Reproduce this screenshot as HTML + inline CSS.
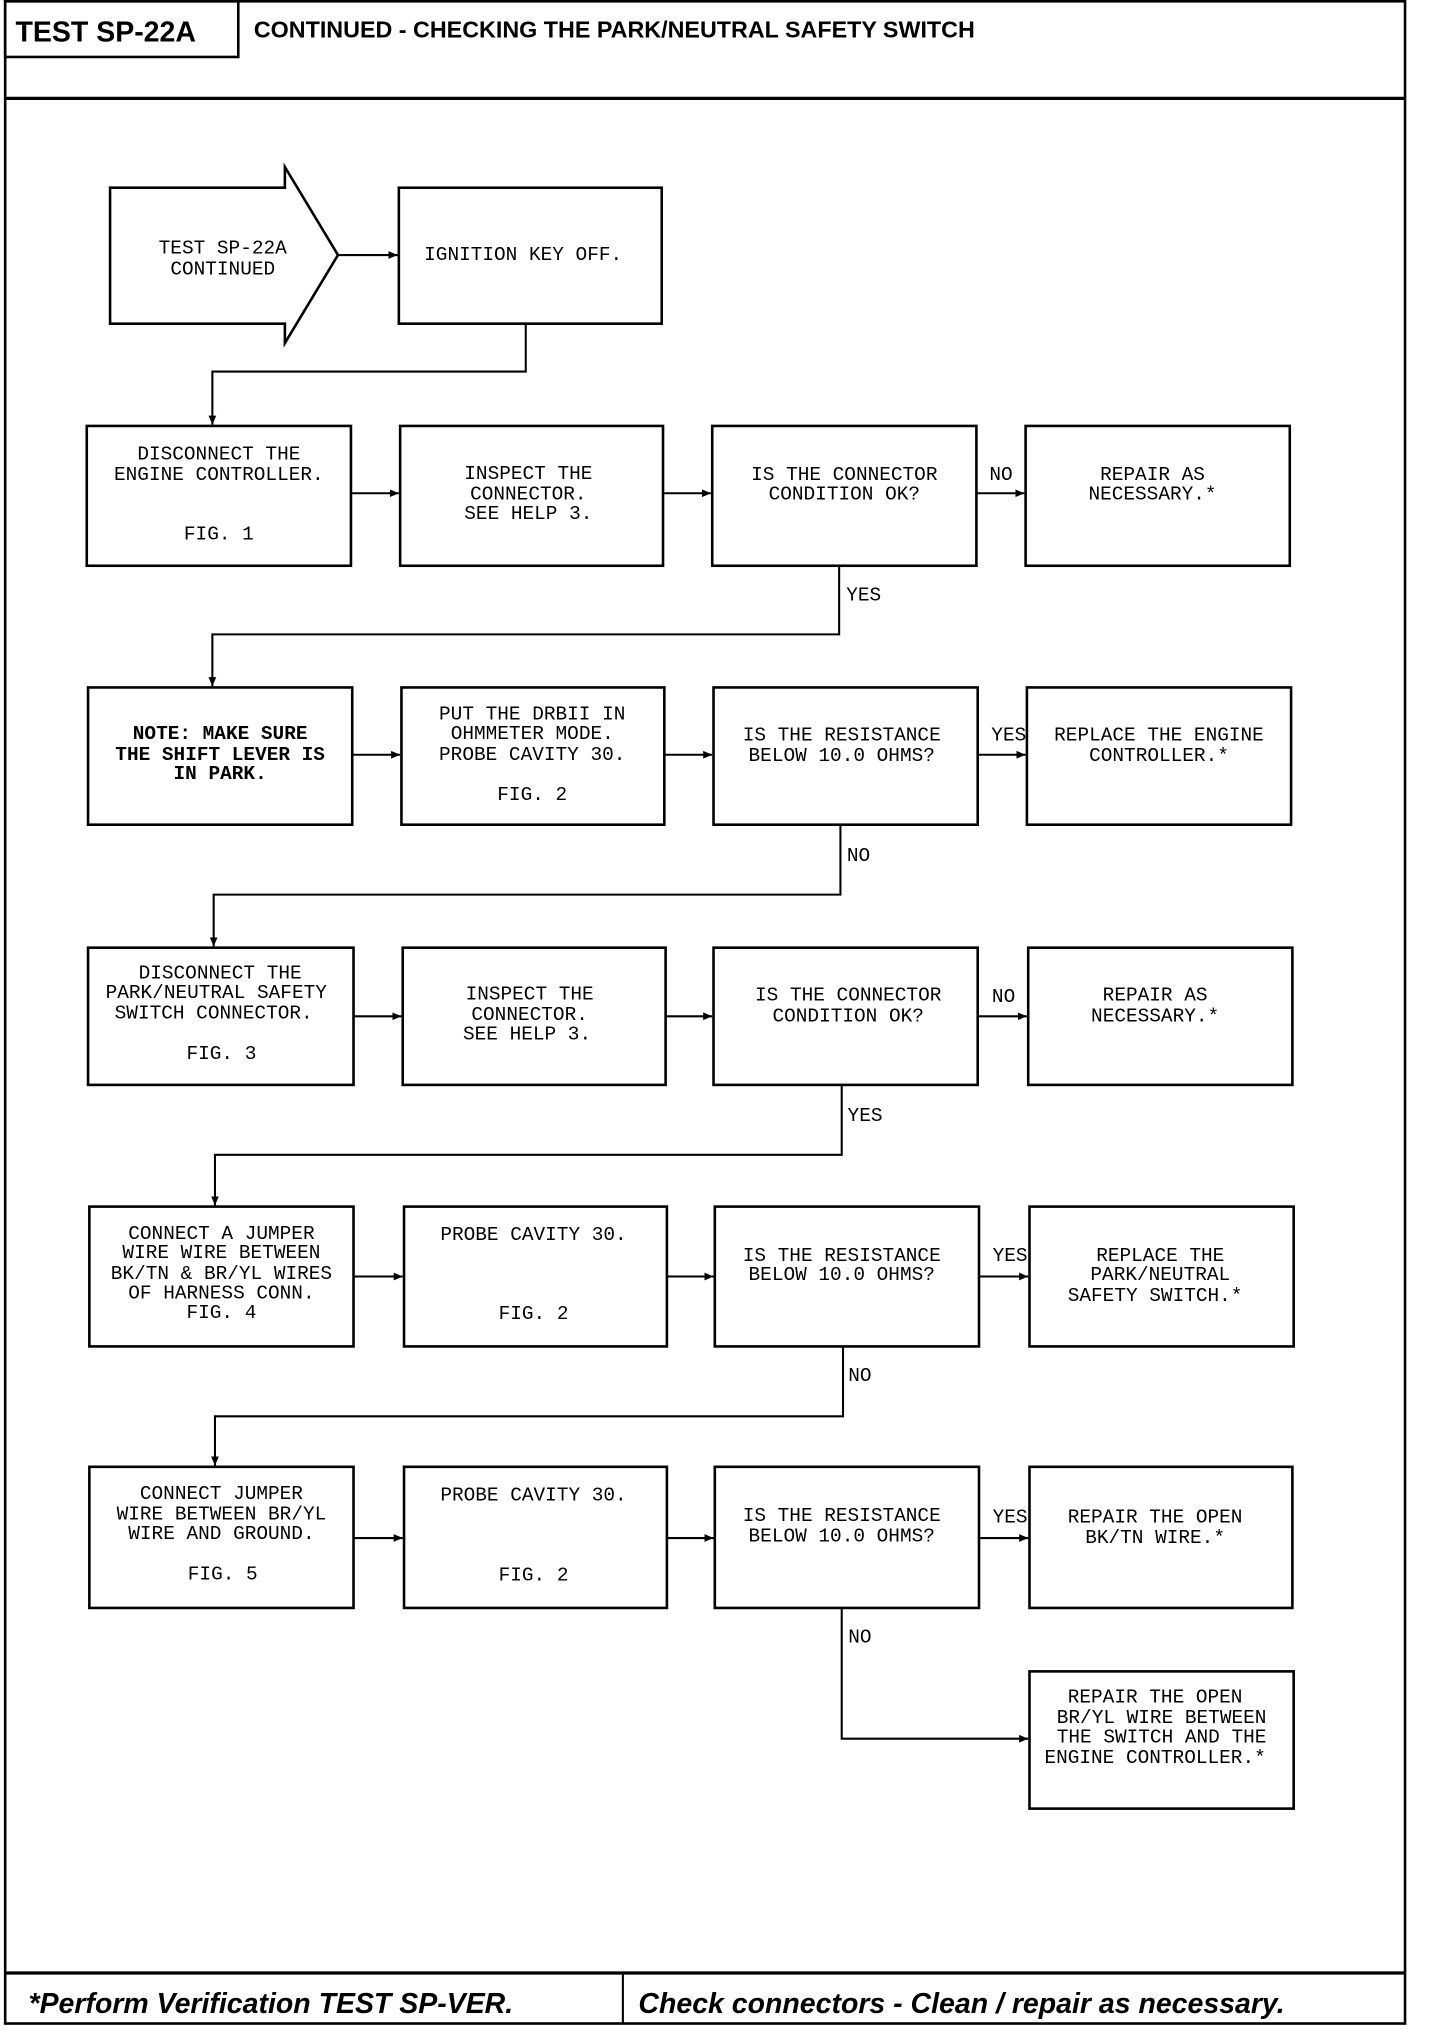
<!DOCTYPE html>
<html><head><meta charset="utf-8"><style>
html,body{margin:0;padding:0;background:#fff}
svg{display:block}
.t{font-family:"Liberation Mono",monospace;font-size:15px;fill:#000;text-anchor:middle;dominant-baseline:central}
.b{fill:none;stroke:#000;stroke-width:2}
.l{fill:none;stroke:#000;stroke-width:1.6}
.h{font-family:"Liberation Sans",sans-serif;font-weight:bold;fill:#000}
.f{font-family:"Liberation Sans",sans-serif;font-weight:bold;font-style:italic;font-size:22px;fill:#000}
</style></head><body>
<svg width="1440" height="2030" viewBox="0 0 1112 1568" preserveAspectRatio="none" xmlns="http://www.w3.org/2000/svg">
<defs><marker id="a" markerWidth="8" markerHeight="8" refX="7" refY="4" orient="auto" markerUnits="userSpaceOnUse"><path d="M0,1 L7,4 L0,7 Z" fill="#000"/></marker></defs>
<rect x="4" y="1" width="1081" height="1562" class="b"/>
<line x1="4" y1="76" x2="1085" y2="76" stroke="#000" stroke-width="2.5"/>
<rect x="4" y="1" width="180" height="43" class="b"/>
<text x="12" y="32" class="h" font-size="22">TEST SP-22A</text>
<text x="196" y="29" class="h" font-size="18">CONTINUED - CHECKING THE PARK/NEUTRAL SAFETY SWITCH</text>
<line x1="4" y1="1524" x2="1085" y2="1524" stroke="#000" stroke-width="2.5"/>
<line x1="481" y1="1524" x2="481" y2="1563" class="l"/>
<text x="22" y="1555" class="f">*Perform Verification TEST SP-VER.</text>
<text x="493" y="1555" class="f">Check connectors - Clean / repair as necessary.</text>

<polygon points="85,145 220,145 220,129 261,197 220,265 220,250 85,250" class="b"/>
<text class="t" x="172" y="192">TEST SP-22A</text><text class="t" x="172" y="208">CONTINUED</text>
<rect x="308" y="145" width="203" height="105" class="b"/>
<text class="t" x="404" y="197">IGNITION KEY OFF.</text>
<line x1="261" y1="197" x2="307" y2="197" class="l" marker-end="url(#a)"/>
<polyline points="406,250 406,287 164,287 164,328" class="l" marker-end="url(#a)"/>

<rect x="67" y="329" width="204" height="108" class="b"/>
<rect x="309" y="329" width="203" height="108" class="b"/>
<rect x="550" y="329" width="204" height="108" class="b"/>
<rect x="792" y="329" width="204" height="108" class="b"/>
<line x1="271" y1="381" x2="308" y2="381" class="l" marker-end="url(#a)"/>
<line x1="512" y1="381" x2="549" y2="381" class="l" marker-end="url(#a)"/>
<line x1="754" y1="381" x2="791" y2="381" class="l" marker-end="url(#a)"/>
<text class="t" x="169" y="351">DISCONNECT THE</text><text class="t" x="169" y="367">ENGINE CONTROLLER.</text><text class="t" x="169" y="413">FIG. 1</text>
<text class="t" x="408" y="366">INSPECT THE</text><text class="t" x="408" y="382">CONNECTOR.</text><text class="t" x="408" y="397">SEE HELP 3.</text>
<text class="t" x="652" y="367">IS THE CONNECTOR</text><text class="t" x="652" y="382">CONDITION OK?</text>
<text class="t" x="890" y="367">REPAIR AS</text><text class="t" x="890" y="382">NECESSARY.*</text>
<text class="t" x="773" y="367">NO</text>
<polyline points="648,437 648,490 164,490 164,530" class="l" marker-end="url(#a)"/>
<text class="t" x="667" y="460">YES</text>

<rect x="68" y="531" width="204" height="106" class="b"/>
<rect x="310" y="531" width="203" height="106" class="b"/>
<rect x="551" y="531" width="204" height="106" class="b"/>
<rect x="793" y="531" width="204" height="106" class="b"/>
<line x1="272" y1="583" x2="309" y2="583" class="l" marker-end="url(#a)"/>
<line x1="513" y1="583" x2="550" y2="583" class="l" marker-end="url(#a)"/>
<line x1="755" y1="583" x2="792" y2="583" class="l" marker-end="url(#a)"/>
<text class="t" x="170" y="567" font-weight="bold">NOTE:  MAKE SURE</text><text class="t" x="170" y="583" font-weight="bold">THE SHIFT LEVER IS</text><text class="t" x="170" y="598" font-weight="bold">IN PARK.</text>
<text class="t" x="411" y="552">PUT THE DRBII IN</text><text class="t" x="411" y="567">OHMMETER MODE.</text><text class="t" x="411" y="583">PROBE CAVITY 30.</text><text class="t" x="411" y="614">FIG. 2</text>
<text class="t" x="650" y="568">IS THE RESISTANCE</text><text class="t" x="650" y="584">BELOW 10.0 OHMS?</text>
<text class="t" x="895" y="568">REPLACE THE ENGINE</text><text class="t" x="895" y="584">CONTROLLER.*</text>
<text class="t" x="779" y="568">YES</text>
<polyline points="649,637 649,691 165,691 165,731" class="l" marker-end="url(#a)"/>
<text class="t" x="663" y="661">NO</text>

<rect x="68" y="732" width="205" height="106" class="b"/>
<rect x="311" y="732" width="203" height="106" class="b"/>
<rect x="551" y="732" width="204" height="106" class="b"/>
<rect x="794" y="732" width="204" height="106" class="b"/>
<line x1="273" y1="785" x2="310" y2="785" class="l" marker-end="url(#a)"/>
<line x1="514" y1="785" x2="550" y2="785" class="l" marker-end="url(#a)"/>
<line x1="755" y1="785" x2="793" y2="785" class="l" marker-end="url(#a)"/>
<text class="t" x="170" y="752">DISCONNECT THE</text><text class="t" x="167" y="767">PARK/NEUTRAL SAFETY</text><text class="t" x="165" y="783">SWITCH CONNECTOR.</text><text class="t" x="171" y="814">FIG. 3</text>
<text class="t" x="409" y="768">INSPECT THE</text><text class="t" x="409" y="784">CONNECTOR.</text><text class="t" x="407" y="799">SEE HELP 3.</text>
<text class="t" x="655" y="769">IS THE CONNECTOR</text><text class="t" x="655" y="785">CONDITION OK?</text>
<text class="t" x="892" y="769">REPAIR AS</text><text class="t" x="892" y="785">NECESSARY.*</text>
<text class="t" x="775" y="770">NO</text>
<polyline points="650,838 650,892 166,892 166,931" class="l" marker-end="url(#a)"/>
<text class="t" x="668" y="862">YES</text>

<rect x="69" y="932" width="204" height="108" class="b"/>
<rect x="312" y="932" width="203" height="108" class="b"/>
<rect x="552" y="932" width="204" height="108" class="b"/>
<rect x="795" y="932" width="204" height="108" class="b"/>
<line x1="273" y1="986" x2="311" y2="986" class="l" marker-end="url(#a)"/>
<line x1="515" y1="986" x2="551" y2="986" class="l" marker-end="url(#a)"/>
<line x1="756" y1="986" x2="794" y2="986" class="l" marker-end="url(#a)"/>
<text class="t" x="171" y="953">CONNECT A JUMPER</text><text class="t" x="171" y="968">WIRE WIRE BETWEEN</text><text class="t" x="171" y="984">BK/TN &amp; BR/YL WIRES</text><text class="t" x="171" y="999">OF HARNESS CONN.</text><text class="t" x="171" y="1014">FIG. 4</text>
<text class="t" x="412" y="954">PROBE CAVITY 30.</text><text class="t" x="412" y="1015">FIG. 2</text>
<text class="t" x="650" y="970">IS THE RESISTANCE</text><text class="t" x="650" y="985">BELOW 10.0 OHMS?</text>
<text class="t" x="896" y="970">REPLACE THE</text><text class="t" x="896" y="985">PARK/NEUTRAL</text><text class="t" x="892" y="1001">SAFETY SWITCH.*</text>
<text class="t" x="780" y="970">YES</text>
<polyline points="651,1040 651,1094 166,1094 166,1132" class="l" marker-end="url(#a)"/>
<text class="t" x="664" y="1063">NO</text>

<rect x="69" y="1133" width="204" height="109" class="b"/>
<rect x="312" y="1133" width="203" height="109" class="b"/>
<rect x="552" y="1133" width="204" height="109" class="b"/>
<rect x="795" y="1133" width="203" height="109" class="b"/>
<line x1="273" y1="1188" x2="311" y2="1188" class="l" marker-end="url(#a)"/>
<line x1="515" y1="1188" x2="551" y2="1188" class="l" marker-end="url(#a)"/>
<line x1="756" y1="1188" x2="794" y2="1188" class="l" marker-end="url(#a)"/>
<text class="t" x="171" y="1154">CONNECT JUMPER</text><text class="t" x="171" y="1170">WIRE BETWEEN BR/YL</text><text class="t" x="171" y="1185">WIRE AND GROUND.</text><text class="t" x="172" y="1216">FIG. 5</text>
<text class="t" x="412" y="1155">PROBE CAVITY 30.</text><text class="t" x="412" y="1217">FIG. 2</text>
<text class="t" x="650" y="1171">IS THE RESISTANCE</text><text class="t" x="650" y="1187">BELOW 10.0 OHMS?</text>
<text class="t" x="892" y="1172">REPAIR THE OPEN</text><text class="t" x="892" y="1188">BK/TN WIRE.*</text>
<text class="t" x="780" y="1172">YES</text>
<polyline points="650,1242 650,1343 794,1343" class="l" marker-end="url(#a)"/>
<text class="t" x="664" y="1265">NO</text>
<rect x="795" y="1291" width="204" height="106" class="b"/>
<text class="t" x="892" y="1311">REPAIR THE OPEN</text><text class="t" x="897" y="1327">BR/YL WIRE BETWEEN</text><text class="t" x="897" y="1342">THE SWITCH AND THE</text><text class="t" x="892" y="1358">ENGINE CONTROLLER.*</text>
</svg>
</body></html>
